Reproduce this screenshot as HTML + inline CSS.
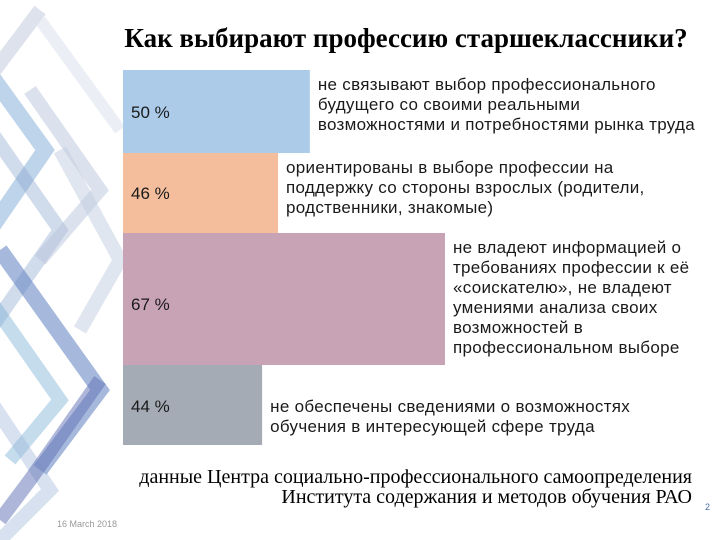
<!DOCTYPE html>
<html><head><meta charset="utf-8">
<style>
body{margin:0;background:#fff;}
#slide{position:relative;width:720px;height:540px;overflow:hidden;background:#fff;font-family:"Liberation Sans",sans-serif;}
.t{position:absolute;font-size:17px;line-height:20px;color:#1a1a1a;white-space:nowrap;letter-spacing:0.3px;}
.pct{position:absolute;font-size:17px;color:#1a1a1a;left:131px;}
#title{position:absolute;left:60px;width:692px;top:23px;text-align:center;font-family:"Liberation Serif",serif;font-weight:bold;font-size:27px;color:#000;white-space:nowrap;}
#caption{position:absolute;right:28px;top:467px;text-align:right;font-family:"Liberation Serif",serif;font-size:20px;line-height:20px;color:#000;white-space:nowrap;}
</style></head><body>
<div id="slide">
<svg id="deco" width="140" height="540" style="position:absolute;left:0;top:0">
 <g fill="none" stroke-linejoin="miter">
  <polyline points="-20,60 45,150 -10,230" stroke="#6f9fd0" stroke-width="16" opacity="0.45"/>
  <polyline points="40,10 -20,90" stroke="#c8cfe0" stroke-width="14" opacity="0.6"/>
  <polyline points="-10,130 60,230 -10,330" stroke="#8aa6cc" stroke-width="14" opacity="0.4"/>
  <polyline points="30,90 100,190 40,260" stroke="#b8c4dc" stroke-width="14" opacity="0.5"/>
  <polyline points="0,250 100,390 40,470" stroke="#5d7fbf" stroke-width="16" opacity="0.55"/>
  <polyline points="-10,300 60,400 10,460" stroke="#7fb2d8" stroke-width="14" opacity="0.45"/>
  <polyline points="60,150 120,260 80,330" stroke="#c2cde0" stroke-width="14" opacity="0.5"/>
  <polyline points="-10,400 50,490 0,540" stroke="#9ab4d6" stroke-width="14" opacity="0.4"/>
  <polyline points="100,380 30,480 0,520" stroke="#5e6fb3" stroke-width="14" opacity="0.5"/>
  <polyline points="40,20 120,130" stroke="#dde3ee" stroke-width="12" opacity="0.6"/>
 </g>
</svg>
<div id="title">Как выбирают профессию старшеклассники?</div>
<svg id="chart" width="720" height="540" style="position:absolute;left:0;top:0"></svg>
<div id="labels"></div>
<div id="caption">данные Центра социально-профессионального самоопределения<br>Института содержания и методов обучения РАО</div>
<div style="position:absolute;left:705px;top:502px;font-size:9px;color:#4a6fa5">2</div>
<div style="position:absolute;left:57px;top:519px;font-size:9px;color:#999">16 March 2018</div>
</div>
<script>
const values=[50,46,67,44];
const pctLabels=["50 %","46 %","67 %","44 %"];
const descriptions=[
 ["не связывают выбор профессионального","будущего со своими реальными","возможностями и потребностями рынка труда"],
 ["ориентированы в выборе профессии на","поддержку со стороны взрослых (родители,","родственники, знакомые)"],
 ["не владеют информацией о","требованиях профессии к её","«соискателю», не владеют","умениями анализа своих","возможностей в","профессиональном выборе"],
 ["не обеспечены сведениями о возможностях","обучения в интересующей сфере труда"]
];
const colors=["#abcbe8","#f4be9c","#c8a3b6","#a4abb5"];
const barTops=[70,153,233,365], barBottoms=[153,233,365,445];
const x0=123;
function xScale(v){return (v-26.5)*7.95;}
const svg=document.getElementById('chart');
const lab=document.getElementById('labels');
const ns='http://www.w3.org/2000/svg';
values.forEach((v,i)=>{
 const w=xScale(v);
 const r=document.createElementNS(ns,'rect');
 r.setAttribute('x',x0);r.setAttribute('y',barTops[i]);
 r.setAttribute('width',w);r.setAttribute('height',barBottoms[i]-barTops[i]);
 r.setAttribute('fill',colors[i]);
 
 
 svg.appendChild(r);
 const p=document.createElement('div');
 p.className='pct';
 p.textContent=pctLabels[i];
 const mid=i===2?305:(i===3?407:(barTops[i]+barBottoms[i])/2+1);
 p.style.top=(mid-10)+'px';
 
 
 lab.appendChild(p);
 const t=document.createElement('div');
 t.className='t';
 t.innerHTML=descriptions[i].join('<br>');
 t.style.left=(x0+w+8)+'px';
 const tTop=i===3?397:barTops[i]+5;
 t.style.top=tTop+'px';
 
 
 lab.appendChild(t);
});
</script>
</body></html>
